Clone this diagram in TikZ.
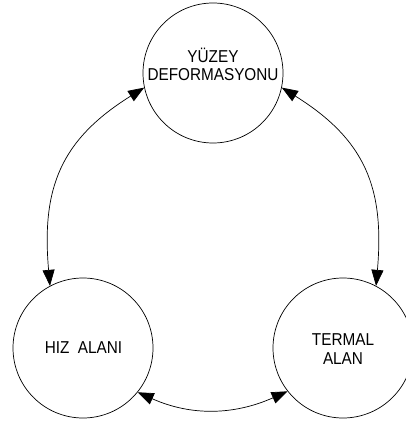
\documentclass[tikz,border=0pt]{standalone}
\usepackage{fontspec}
\newfontfamily\cadfont[FakeStretch=0.89]{Liberation Sans}
\usetikzlibrary{arrows.meta}
\begin{document}
\begin{tikzpicture}[x=1pt,y=-1pt,
  bubble/.style={draw,circle,minimum size=140pt,inner sep=0pt,line width=0.7pt},
  lbl/.style={anchor=base,inner sep=0pt,font=\cadfont\fontsize{17.2pt}{19pt}\selectfont},
  link/.style={line width=0.7pt,{Triangle[length=16pt,width=12pt]}-{Triangle[length=16pt,width=12pt]}}]
\useasboundingbox (0,0) rectangle (405,427);
\node[bubble] (top) at (213,73) {};
\node[bubble] (left) at (83,348) {};
\node[bubble] (right) at (343,348) {};
\node[lbl] (t1) at (213,62.7) {YÜZEY};
\node[lbl] (t2) at (213,81) {DEFORMASYONU};
\node[lbl] (l1) at (83.5,353) {HIZ\ \ ALANI};
\node[lbl] (r1) at (343,345) {TERMAL};
\node[lbl] (r2) at (343,364) {ALAN};
\draw[link] (top.192) to[out=212,in=95,looseness=1.15] (left.118.4);
\draw[link] (top.348) to[out=-32,in=85,looseness=1.15] (right.62.3);
\draw[link] (left.-39.3) to[out=-24,in=204] (right.218.8);
\end{tikzpicture}
\end{document}
